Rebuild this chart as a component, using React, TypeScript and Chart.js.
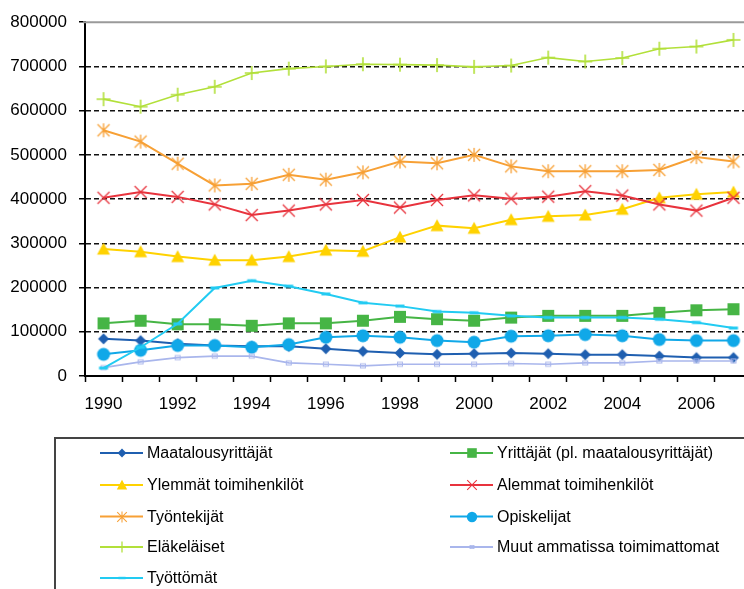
import React, { useEffect, useRef } from 'react';
import { Chart, registerables } from 'chart.js';

Chart.register(...registerables);

const years = ['1990', '1991', '1992', '1993', '1994', '1995', '1996', '1997', '1998', '1999', '2000', '2001', '2002', '2003', '2004', '2005', '2006', '2007'];
const yTicks = [0, 100000, 200000, 300000, 400000, 500000, 600000, 700000, 800000];

const maatalousyrittajat = [84000, 80000, 73000, 69000, 67000, 67000, 61700, 55700, 52000, 49000, 50500, 52000, 50500, 48300, 48300, 45000, 41600, 41600];
const yrittajat = [119000, 125000, 117000, 117000, 113600, 119000, 119000, 125000, 133700, 128500, 125000, 132000, 136000, 136000, 136000, 143000, 148600, 151000];
const ylemmat = [287000, 281000, 270000, 262000, 262000, 270000, 284500, 282000, 314000, 340000, 334000, 353500, 361000, 364000, 377000, 403000, 411000, 416000];
const alemmat = [403000, 416000, 405000, 388000, 364000, 374000, 388000, 398000, 381000, 398000, 408500, 401000, 405500, 418000, 408000, 388000, 374000, 403000];
const tyontekijat = [555600, 530000, 480000, 431000, 434500, 455000, 444000, 460500, 485000, 481000, 500000, 474000, 463000, 463000, 463000, 466000, 495000, 485000];
const opiskelijat = [49000, 58000, 69000, 69000, 65000, 71000, 87600, 91000, 87600, 80000, 76400, 90000, 91000, 93600, 91000, 82400, 80000, 80000];
const elakelaiset = [626000, 609000, 636000, 654000, 685000, 695000, 700000, 705000, 704000, 703000, 699000, 702000, 720000, 711000, 719000, 740000, 745000, 760000];
const muut = [19000, 32000, 41600, 45000, 45000, 29600, 26700, 23000, 26700, 26700, 26700, 28300, 26700, 29600, 29600, 34000, 34000, 34000];
const tyottomat = [18000, 65000, 118000, 199000, 215500, 203000, 185600, 165600, 158000, 145600, 143000, 136000, 132000, 132000, 132000, 128500, 121000, 108500];

const seriesNames = [
  'Maatalousyrittäjät',
  'Yrittäjät (pl. maatalousyrittäjät)',
  'Ylemmät toimihenkilöt',
  'Alemmat toimihenkilöt',
  'Työntekijät',
  'Opiskelijat',
  'Eläkeläiset',
  'Muut ammatissa toimimattomat',
  'Työttömät',
];
const seriesData = [maatalousyrittajat, yrittajat, ylemmat, alemmat, tyontekijat, opiskelijat, elakelaiset, muut, tyottomat];
const seriesColors = ['#1F5FB0', '#46B545', '#FFD200', '#E8333D', '#F7A035', '#10A8E8', '#B2E03A', '#A9B6EC', '#22CBF2'];
const seriesMarkers = ['diamond', 'square', 'triangle', 'xcross', 'asterisk', 'circle', 'plus', 'smallsq', 'dash'];

const FONT = "'Liberation Sans', Arial, sans-serif";

function makeMarker(kind: string, color: string, scale = 1): HTMLCanvasElement {
  const S = Math.round(18 * scale) + 2;
  const c = document.createElement('canvas');
  c.width = S;
  c.height = S;
  const g = c.getContext('2d')!;
  const m = S / 2;
  g.fillStyle = color;
  g.strokeStyle = color;
  g.save();
  g.translate(m, m);
  g.scale(scale, scale);
  g.beginPath();
  switch (kind) {
    case 'diamond':
      g.moveTo(0, -5.5); g.lineTo(5.5, 0); g.lineTo(0, 5.5); g.lineTo(-5.5, 0); g.closePath(); g.fill();
      break;
    case 'square':
      g.rect(-6, -6, 12, 12); g.fill();
      break;
    case 'triangle':
      g.moveTo(0, -6.5); g.lineTo(6.5, 5.5); g.lineTo(-6.5, 5.5); g.closePath(); g.fill();
      break;
    case 'xcross':
      g.lineWidth = 1.3;
      g.moveTo(-6, -6); g.lineTo(6, 6); g.moveTo(6, -6); g.lineTo(-6, 6); g.stroke();
      break;
    case 'asterisk':
      g.lineWidth = 1.3;
      g.moveTo(-6, -6); g.lineTo(6, 6); g.moveTo(6, -6); g.lineTo(-6, 6); g.moveTo(0, -7); g.lineTo(0, 7); g.stroke();
      break;
    case 'circle':
      g.arc(0, 0, 6.5, 0, Math.PI * 2); g.fill();
      break;
    case 'plus':
      g.lineWidth = 1.6;
      g.moveTo(-7, 0); g.lineTo(7, 0); g.moveTo(0, -7); g.lineTo(0, 7); g.stroke();
      break;
    case 'smallsq':
      g.lineWidth = 1;
      g.strokeRect(-2.5, -2, 5, 4);
      break;
    case 'dash':
      g.rect(-4.5, -1.5, 9, 3); g.fill();
      break;
  }
  g.restore();
  return c;
}

export default function App() {
  const ref = useRef<HTMLCanvasElement>(null);

  useEffect(() => {
    const canvas = ref.current;
    if (!canvas) return;

    const markers = seriesMarkers.map((k, i) => makeMarker(k, seriesColors[i]));
    const legendMarkers = seriesMarkers.map((k, i) => makeMarker(k, seriesColors[i], 0.8));

    const datasets = seriesNames.map((name, i) => ({
      label: name,
      data: seriesData[i],
      borderColor: seriesColors[i],
      backgroundColor: seriesColors[i],
      borderWidth: i === 6 || i === 7 ? 1.6 : 2,
      pointStyle: markers[i] as any,
      pointRadius: 6,
      tension: 0,
      order: -i,
    }));

    const legendRows = [453, 485, 516.5, 547, 578];

    const customPlugin = {
      id: 'customDeco',
      afterDraw(chart: any) {
        const ctx = chart.ctx as CanvasRenderingContext2D;
        const a = chart.chartArea;
        ctx.save();
        ctx.strokeStyle = '#9a9a9a';
        ctx.lineWidth = 2;
        ctx.beginPath();
        ctx.moveTo(a.left - 2, a.top);
        ctx.lineTo(a.right + 20, a.top);
        ctx.stroke();

        ctx.strokeStyle = '#444';
        ctx.lineWidth = 2;
        ctx.strokeRect(55, 438, 900, 400);

        ctx.font = `16px ${FONT}`;
        ctx.textBaseline = 'middle';
        ctx.textAlign = 'left';
        seriesNames.forEach((name, i) => {
          const col = i % 2;
          const row = Math.floor(i / 2);
          const x0 = col ? 450 : 100;
          const y = legendRows[row];
          ctx.strokeStyle = seriesColors[i];
          ctx.lineWidth = 2;
          ctx.beginPath();
          ctx.moveTo(x0, y);
          ctx.lineTo(x0 + 43, y);
          ctx.stroke();
          const mk = legendMarkers[i];
          ctx.drawImage(mk, Math.round(x0 + 22 - mk.width / 2), Math.round(y - mk.height / 2));
          ctx.fillStyle = '#000';
          ctx.fillText(name, x0 + 47, y + 1);
        });
        ctx.restore();
      },
    };

    const chart = new Chart(canvas, {
      type: 'line',
      data: { labels: years, datasets },
      options: {
        animation: false,
        responsive: false,
        devicePixelRatio: 1,
        layout: { padding: { left: 0, right: 18, top: 17, bottom: 173 } },
        plugins: {
          legend: { display: false },
          tooltip: { enabled: false },
          title: { display: false },
        },
        elements: { line: { fill: false } },
        scales: {
          x: {
            type: 'category',
            offset: true,
            grid: {
              offset: true,
              drawOnChartArea: false,
              drawTicks: true,
              tickLength: 6,
              tickColor: '#000',
              tickWidth: 1.5,
            },
            border: { display: true, color: '#000', width: 2 },
            ticks: {
              autoSkip: false,
              maxRotation: 0,
              minRotation: 0,
              padding: 12,
              color: '#000',
              font: { family: FONT, size: 17 },
              callback: (_v: any, i: number) => (i % 2 === 0 ? years[i] : ''),
            },
            afterFit: (s: any) => { s.height = 40; },
          },
          y: {
            min: yTicks[0],
            max: yTicks[yTicks.length - 1],
            afterBuildTicks: (s: any) => { s.ticks = yTicks.map((v) => ({ value: v })); },
            grid: {
              color: (c: any) => (c.tick && (c.tick.value === 0 || c.tick.value === 800000) ? 'rgba(0,0,0,0)' : '#111'),
              lineWidth: 1.5,
              tickLength: 6,
              tickColor: '#000',
              tickWidth: 1.5,
              tickBorderDash: [],
            },
            border: { display: true, color: '#000', width: 2, dash: [5, 3] },
            ticks: {
              padding: 12,
              color: '#000',
              font: { family: FONT, size: 17 },
              callback: (v: any) => String(v),
            },
            afterFit: (s: any) => { s.width = 85; },
          },
        },
      },
      plugins: [customPlugin],
    });

    return () => chart.destroy();
  }, []);

  return (
    <div style={{ position: 'fixed', left: 0, top: 0, width: 744, height: 589, overflow: 'hidden', background: '#fff' }}>
      <canvas ref={ref} width={770} height={589} style={{ display: 'block', width: 770, height: 589 }} />
    </div>
  );
}
